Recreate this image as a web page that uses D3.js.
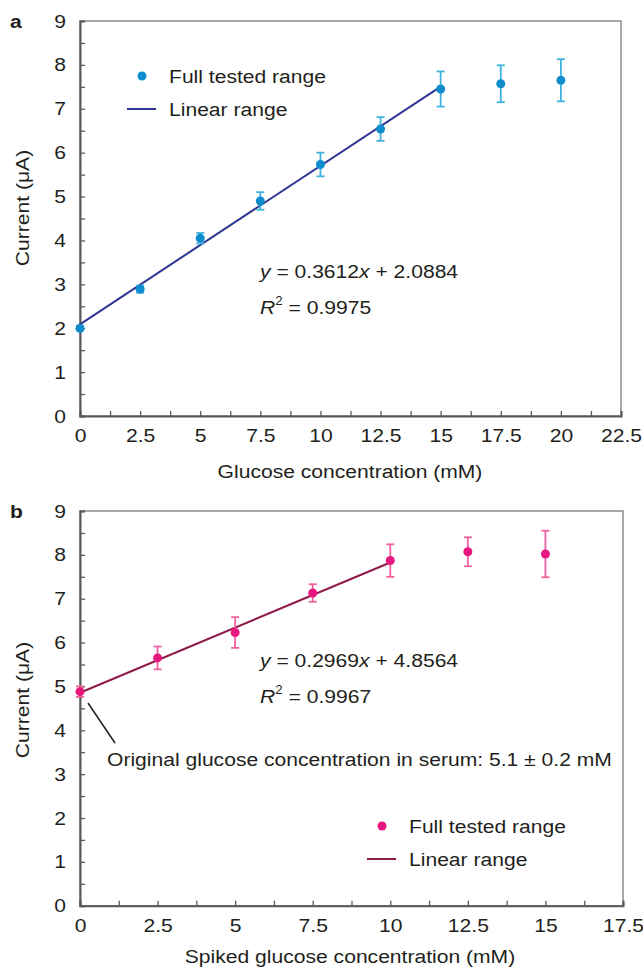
<!DOCTYPE html>
<html>
<head>
<meta charset="utf-8">
<script src="https://cdn.jsdelivr.net/npm/d3@7"></script>
<style>
  body { margin: 0; background: #fff; }
  text { font-family: "Liberation Sans", Arial, sans-serif; fill: #231f20; }
</style>
</head>
<body>
<script>
// panel a: glucose standard
const concA = [0, 2.5, 5, 7.5, 10, 12.5, 15, 17.5, 20];
const currentA = [2.0, 2.89, 4.05, 4.90, 5.73, 6.54, 7.45, 7.57, 7.65];
const errA = [0.05, 0.08, 0.12, 0.2, 0.27, 0.27, 0.4, 0.42, 0.48];
const fitA = { slope: 0.3612, intercept: 2.0884, end: 15 };

// panel b: spiked serum
const concB = [0, 2.5, 5, 7.5, 10, 12.5, 15];
const currentB = [4.88, 5.65, 6.23, 7.13, 7.87, 8.07, 8.02];
const errB = [0.12, 0.26, 0.35, 0.2, 0.37, 0.33, 0.53];
const fitB = { slope: 0.2969, intercept: 4.8564, end: 10 };

const yTicks = d3.range(0, 9.01, 0.5);
const xTicksA = d3.range(0, 22.51, 1.25);
const xTicksB = d3.range(0, 17.51, 1.25);

var svg = d3.select("body").append("svg")
    .attr("width", 643)
    .attr("height", 967);

const fs = 19;
const sx = 1.11; // the source figure is a bit wider than plain Arial

// widen a text around its own anchor point
function stretch(sel) {
    sel.each(function() {
        var t = d3.select(this);
        var x = +t.attr("x") || 0, y = +t.attr("y") || 0;
        var old = t.attr("transform") || "";
        t.attr("transform", `${old} translate(${x},${y}) scale(${sx},1) translate(${-x},${-y})`);
    });
}

function drawPanel(o) {
    var x = d3.scaleLinear().domain([0, o.xMax]).range([80, o.right]);
    var y = d3.scaleLinear().domain([0, 9]).range([o.bottom, o.top]);
    var g = svg.append("g");

    // frame (top / right lighter)
    g.append("rect")
        .attr("x", x(0)).attr("y", y(9))
        .attr("width", x(o.xMax) - x(0)).attr("height", y(0) - y(9))
        .attr("fill", "none").attr("stroke", "#8a8c8e").attr("stroke-width", 1.5);

    var ya = g.append("g").attr("transform", `translate(${x(0)},0)`)
        .call(d3.axisLeft(y).tickValues(yTicks).tickSize(-5).tickPadding(14)
            .tickFormat(d => d % 1 === 0 ? d : ""));
    var xa = g.append("g").attr("transform", `translate(0,${y(0)})`)
        .call(d3.axisBottom(x).tickValues(o.xTicks).tickSize(-5).tickPadding(12)
            .tickFormat(d => (d / 2.5) % 1 === 0 ? d : ""));
    [ya, xa].forEach(a => {
        a.select(".domain").attr("stroke", "#58595b").attr("stroke-width", 2);
        a.selectAll(".tick line").attr("stroke", "#58595b").attr("stroke-width", 1.3);
        a.selectAll("text").attr("font-size", fs).attr("fill", "#231f20")
            .attr("font-family", "Liberation Sans, Arial, sans-serif");
    });
    xa.selectAll("text").attr("dy", "0.75em");
    stretch(ya.selectAll("text"));
    stretch(xa.selectAll("text"));

    // axis titles
    g.append("text")
        .attr("transform", `translate(29,${o.yLabelY}) rotate(-90) scale(${sx},1)`)
        .attr("text-anchor", "middle").attr("font-size", fs)
        .text("Current (\u03bcA)");
    g.append("text")
        .attr("x", 350).attr("y", o.xLabelY)
        .attr("text-anchor", "middle").attr("font-size", fs)
        .text(o.xLabel)
        .call(stretch);

    g.append("text")
        .attr("x", 10).attr("y", y(9) + 7)
        .attr("font-size", 19).attr("font-weight", "bold")
        .text(o.letter)
        .call(stretch);

    // linear fit
    var line = d3.line().x(d => x(d)).y(d => y(o.fit.slope * d + o.fit.intercept));
    g.append("path")
        .datum([0, o.fit.end])
        .attr("d", line)
        .attr("fill", "none").attr("stroke", o.lineColor).attr("stroke-width", 2);

    // error bars
    var pts = o.conc.map((c, i) => ({ c: c, v: o.cur[i], e: o.err[i] }));
    var eb = g.selectAll(".eb").data(pts).enter().append("g")
        .attr("stroke", o.barColor).attr("stroke-width", 1.8);
    eb.append("line")
        .attr("x1", d => x(d.c)).attr("x2", d => x(d.c))
        .attr("y1", d => y(d.v - d.e)).attr("y2", d => y(d.v + d.e));
    eb.append("line")
        .attr("x1", d => x(d.c) - 4).attr("x2", d => x(d.c) + 4)
        .attr("y1", d => y(d.v + d.e)).attr("y2", d => y(d.v + d.e));
    eb.append("line")
        .attr("x1", d => x(d.c) - 4).attr("x2", d => x(d.c) + 4)
        .attr("y1", d => y(d.v - d.e)).attr("y2", d => y(d.v - d.e));

    g.selectAll(".pt").data(pts).enter().append("circle")
        .attr("cx", d => x(d.c)).attr("cy", d => y(d.v))
        .attr("r", 4.5).attr("fill", o.dotColor);

    // equation
    var eq = g.append("text").attr("x", o.eqX).attr("y", o.eqY).attr("font-size", fs);
    eq.append("tspan").attr("font-style", "italic").text("y");
    eq.append("tspan").text(` = ${o.fit.slope}`);
    eq.append("tspan").attr("font-style", "italic").text("x");
    eq.append("tspan").text(` + ${o.fit.intercept}`);
    eq.call(stretch);
    var r2 = g.append("text").attr("x", o.eqX).attr("y", o.eqY + 36).attr("font-size", fs);
    r2.append("tspan").attr("font-style", "italic").text("R");
    r2.append("tspan").attr("font-size", 12).attr("dy", -9).text("2");
    r2.append("tspan").attr("dy", 9).text(` = ${o.r2}`);
    r2.call(stretch);

    // legend
    var lg = g.append("g").attr("transform", `translate(${o.legX},${o.legY})`);
    lg.append("circle").attr("cx", -27).attr("cy", 0).attr("r", 4.5).attr("fill", o.dotColor);
    lg.append("text").attr("x", 0).attr("y", 0).attr("dy", "0.35em")
        .attr("font-size", fs).text("Full tested range").call(stretch);
    lg.append("line").attr("x1", -42).attr("x2", -13).attr("y1", 33).attr("y2", 33)
        .attr("stroke", o.lineColor).attr("stroke-width", 2);
    lg.append("text").attr("x", 0).attr("y", 33).attr("dy", "0.35em")
        .attr("font-size", fs).text("Linear range").call(stretch);

    return { x: x, y: y, g: g };
}

drawPanel({
    letter: "a", xMax: 22.5, right: 621, top: 21, bottom: 416, xTicks: xTicksA,
    conc: concA, cur: currentA, err: errA, fit: fitA, r2: "0.9975",
    dotColor: "#0f8ccb", barColor: "#3fb2df", lineColor: "#2e3592",
    yLabelY: 208, xLabelY: 478, xLabel: "Glucose concentration (mM)",
    eqX: 260, eqY: 278, legX: 169, legY: 76
});

var pb = drawPanel({
    letter: "b", xMax: 17.5, right: 623, top: 511, bottom: 905.7, xTicks: xTicksB,
    conc: concB, cur: currentB, err: errB, fit: fitB, r2: "0.9967",
    dotColor: "#e6187f", barColor: "#f0619f", lineColor: "#8e1b4b",
    yLabelY: 700, xLabelY: 963, xLabel: "Spiked glucose concentration (mM)",
    eqX: 260, eqY: 667, legX: 409, legY: 826
});

// serum annotation
pb.g.append("line")
    .attr("x1", 88).attr("y1", 703).attr("x2", 115).attr("y2", 743)
    .attr("stroke", "#231f20").attr("stroke-width", 1.5);
pb.g.append("text")
    .attr("x", 107).attr("y", 766).attr("font-size", fs)
    .text("Original glucose concentration in serum: 5.1 \u00b1 0.2 mM")
    .call(stretch);
</script>
</body>
</html>
